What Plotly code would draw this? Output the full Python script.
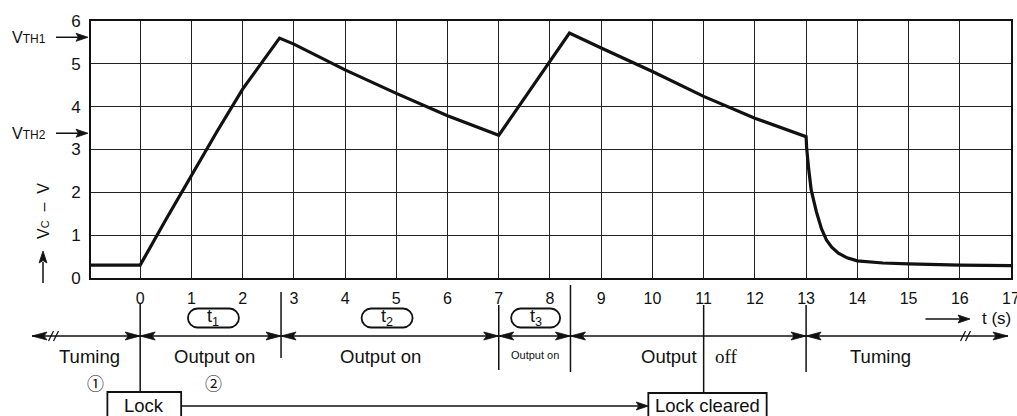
import plotly.graph_objects as go

# ---------------- data ----------------
time_s = [-0.96, 0.0, 0.5, 1.0, 1.5, 2.0, 2.4, 2.72, 3.0, 4.0, 5.0, 6.0, 7.0,
          8.0, 8.38, 9.0, 10.0, 11.0, 12.0, 13.0, 13.01, 13.05, 13.1, 13.2,
          13.3, 13.4, 13.5, 13.63, 13.8, 14.0, 14.5, 15.0, 16.0, 17.0]
vc_volts = [0.30, 0.30, 1.36, 2.40, 3.42, 4.41, 5.08, 5.60, 5.46, 4.86, 4.31, 3.79, 3.33,
            5.05, 5.72, 5.37, 4.82, 4.24, 3.73, 3.30, 3.05, 2.55, 2.05, 1.55,
            1.15, 0.88, 0.72, 0.58, 0.47, 0.40, 0.35, 0.33, 0.30, 0.29]
x_ticks = list(range(0, 18))
y_ticks = list(range(0, 7))
VTH1, VTH2 = 5.62, 3.38
# phase boundaries (s)
t_start, t1_end, t2_end, t3_end, t_clear, t_off_end = 0.0, 2.75, 7.0, 8.4, 11.0, 13.0

# ---------------- geometry helpers ----------------
W, H = 1017, 416
ML, MR, MT, MB = 91, 6, 21, 138
PW, PH = W - ML - MR, H - MT - MB
X0, X1 = -0.96, 17
Y0, Y1 = 0, 6
INK = "#111111"
SANS = "Liberation Sans, Arial, Helvetica, sans-serif"
SERIF = "Liberation Serif, Times New Roman, serif"


def px_x(x):
    return ML + (x - X0) / (X1 - X0) * PW


def px_y(y):
    return H - MB - (y - Y0) / (Y1 - Y0) * PH


def pap_x(px):
    return (px - ML) / PW


def pap_y(py):
    return (H - MB - py) / PH


shapes = []
annotations = []


def seg(xa, ya, xb, yb, w=1.5):
    shapes.append(dict(type="line", xref="paper", yref="paper",
                       x0=pap_x(xa), y0=pap_y(ya), x1=pap_x(xb), y1=pap_y(yb),
                       line=dict(color=INK, width=w)))


def poly(points, fill=None, w=1.5):
    d = "M " + " L ".join(f"{pap_x(a):.5f},{pap_y(b):.5f}" for a, b in points) + " Z"
    shapes.append(dict(type="path", xref="paper", yref="paper", path=d,
                       fillcolor=fill if fill else "rgba(0,0,0,0)",
                       line=dict(color=INK, width=w)))


def head(tx, ty, direction, L=15, hw=4):
    if direction == "right":
        pts = [(tx, ty), (tx - L, ty - hw), (tx - L * 0.8, ty), (tx - L, ty + hw)]
    elif direction == "left":
        pts = [(tx, ty), (tx + L, ty - hw), (tx + L * 0.8, ty), (tx + L, ty + hw)]
    else:  # up
        pts = [(tx, ty), (tx - hw, ty + L), (tx, ty + L * 0.8), (tx + hw, ty + L)]
    poly(pts, fill=INK, w=0.8)


def pill(cx, cy, w=51, h=19):
    r = h / 2.0
    k = 0.5523 * r
    xa, xb = cx - w / 2 + r, cx + w / 2 - r
    ya, yb = cy - r, cy + r
    P = lambda a, b: f"{pap_x(a):.5f},{pap_y(b):.5f}"
    d = (f"M {P(xa, ya)} L {P(xb, ya)} "
         f"C {P(xb + k, ya)} {P(xb + r, cy - k)} {P(xb + r, cy)} "
         f"C {P(xb + r, cy + k)} {P(xb + k, yb)} {P(xb, yb)} "
         f"L {P(xa, yb)} "
         f"C {P(xa - k, yb)} {P(xa - r, cy + k)} {P(xa - r, cy)} "
         f"C {P(xa - r, cy - k)} {P(xa - k, ya)} {P(xa, ya)} Z")
    shapes.append(dict(type="path", xref="paper", yref="paper", path=d,
                       line=dict(color=INK, width=1.8)))


def txt(s, x, y, size=18, family=SANS, xanchor="center", angle=0):
    annotations.append(dict(text=s, x=pap_x(x), y=pap_y(y), xref="paper", yref="paper",
                            showarrow=False, xanchor=xanchor, yanchor="middle",
                            textangle=angle, font=dict(family=family, size=size, color=INK)))


# ---------------- threshold markers on the left ----------------
for name, val in (("TH1", VTH1), ("TH2", VTH2)):
    yy = px_y(val)
    txt(f"V<span style='font-size:12px'>{name}</span>", 48, yy, size=16, xanchor="right")
    seg(56, yy, 80, yy, 1.5)
    head(88, yy, "right", L=12, hw=4)

# y-axis title with upward arrow
txt("V<span style='font-size:11px'>C</span>  –  V", 43, 211, size=16, angle=-90)
seg(43, 283, 43, 262, 1.5)
head(43, 251, "up", L=12, hw=4)

# ---------------- phase arrows row ----------------
ROW = 336
bounds_px = [32, px_x(t_start), px_x(t1_end), px_x(t2_end), px_x(t3_end), px_x(t_off_end), 1008]
for a, b in zip(bounds_px[:-1], bounds_px[1:]):
    seg(a, ROW, b, ROW, 1.3)
    head(a, ROW, "left")
    head(b, ROW, "right")
# break marks
for bx in (51, 56, 963, 968):
    seg(bx - 2.5, ROW + 5, bx + 2.5, ROW - 5, 1.3)

# vertical phase separators
seg(px_x(t_start), 303, px_x(t_start), 392)
seg(px_x(t1_end), 292, px_x(t1_end), 358)
seg(px_x(t2_end), 305, px_x(t2_end), 370)
seg(px_x(t3_end), 285, px_x(t3_end), 372)
seg(px_x(t_clear), 305, px_x(t_clear), 393)
seg(px_x(t_off_end), 305, px_x(t_off_end), 372)

# timer pills
pill(px_x(1.43), 318)
txt("t<sub>1</sub>", px_x(1.43), 317, size=18)
pill(px_x(4.82), 318)
txt("t<sub>2</sub>", px_x(4.82), 317, size=18)
pill(px_x(7.72), 318, w=49)
txt("t<sub>3</sub>", px_x(7.72), 317, size=18)

# phase labels
txt("Tuming", px_x(-0.98), 356, size=18.5)
txt("Output on", px_x(1.46), 356, size=18.5)
txt("Output on", px_x(4.69), 356, size=18.5)
txt("Output on", px_x(7.70), 355, size=11)
txt("Output", px_x(10.9), 356, size=18.5, xanchor="right")
txt("off", px_x(11.43), 356, size=19, family=SERIF)
txt("Tuming", px_x(14.45), 356, size=18.5)
txt("①", px_x(-0.88), 382, size=17, family="Noto Sans CJK JP, DejaVu Sans")
txt("②", px_x(1.43), 382, size=17, family="Noto Sans CJK JP, DejaVu Sans")

# time axis label
seg(px_x(15.33), 319, px_x(16.1), 319, 1.5)
head(px_x(16.2), 319, "right", L=12, hw=4)
txt("t (s)", px_x(16.72), 319, size=17)

# lock boxes
lock_l, lock_r = px_x(-0.64), px_x(0.8)
clr_l, clr_r = px_x(9.92), px_x(12.23)
poly([(lock_l, 420), (lock_l, 392), (lock_r, 392), (lock_r, 420)], w=1.8)
poly([(clr_l, 420), (clr_l, 393), (clr_r, 393), (clr_r, 420)], w=1.8)
txt("Lock", (lock_l + lock_r) / 2, 405, size=18.5)
txt("Lock cleared", (clr_l + clr_r) / 2, 405, size=18.5)
seg(lock_r, 406, clr_l - 10, 406, 1.5)
head(clr_l, 406, "right", L=12, hw=4)

# ---------------- figure ----------------
fig = go.Figure(go.Scatter(x=time_s, y=vc_volts, mode="lines",
                           line=dict(color=INK, width=3.2), hoverinfo="skip"))

axis_common = dict(showgrid=True, gridcolor="#222222", gridwidth=1, showline=True,
                   mirror=True, linecolor=INK, linewidth=2, zeroline=False, ticks="",
                   ticklabelstandoff=5, ticklabeloverflow="allow", automargin=False)
fig.update_layout(
    width=W, height=H, margin=dict(l=ML, r=MR, t=MT, b=MB, autoexpand=False),
    paper_bgcolor="white", plot_bgcolor="white", showlegend=False,
    xaxis=dict(range=[X0, X1], tickvals=x_ticks, ticktext=[str(v) for v in x_ticks],
               tickfont=dict(family=SANS, size=16, color=INK), **axis_common),
    yaxis=dict(range=[Y0, Y1], tickvals=y_ticks, ticktext=[str(v) for v in y_ticks],
               tickfont=dict(family=SANS, size=17, color=INK), **axis_common),
    shapes=shapes, annotations=annotations,
)
fig.write_html("out.html", config={"displayModeBar": False},
               post_script="document.body.style.margin='0';document.body.style.overflow='hidden';")
